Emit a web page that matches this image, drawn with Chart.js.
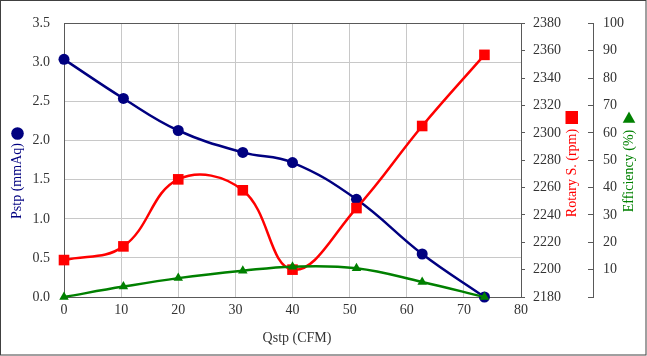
<!DOCTYPE html>
<html>
<head>
<meta charset="utf-8">
<script src="https://cdn.jsdelivr.net/npm/chart.js@4"></script>
<style>
html,body{margin:0;padding:0;background:#fff;}
canvas{display:block;}
</style>
</head>
<body>
<canvas id="c" width="647" height="356"></canvas>
<script>
// ---- data ----
const qstp = [0, 10.4, 20.0, 31.3, 40.0, 51.2, 62.7, 73.6];       // Qstp (CFM)
const pstp = [3.04, 2.54, 2.13, 1.85, 1.72, 1.25, 0.55, 0];       // Pstp (mmAq)
const rpm  = [2207, 2217, 2266, 2258, 2200, 2245, 2305, 2357];    // Rotary S. (rpm)
const eff  = [0, 3.8, 6.9, 9.6, 11.1, 10.5, 5.5, 0];              // Efficiency (%)

const xTitle = 'Qstp (CFM)';
const yTitle = 'Pstp (mmAq)';
const y2Title = 'Rotary S. (rpm)';
const y3Title = 'Efficiency (%)';

const NAVY = '#000080', RED = '#FF0000', GREEN = '#008000';
const FONT = "'Liberation Serif', 'Times New Roman', serif";
const AXIS = '#595959', GRID = '#c8c8c8', TXT = '#333333';

const toPts = (ys) => qstp.map((x, i) => ({x: x, y: ys[i]}));

const decor = {
  id: 'decor',
  beforeDatasetsDraw(chart) {
    const ctx = chart.ctx, a = chart.chartArea;
    ctx.save();
    ctx.strokeStyle = AXIS;
    ctx.lineWidth = 1;
    ctx.strokeRect(Math.round(a.left) + 0.5, Math.round(a.top) + 0.5,
                   Math.round(a.right - a.left), Math.round(a.bottom - a.top));
    ctx.restore();
  },
  afterDraw(chart) {
    const ctx = chart.ctx;
    ctx.save();
    ctx.font = '14px ' + FONT;
    ctx.textAlign = 'center';
    ctx.textBaseline = 'middle';
    // x title
    ctx.fillStyle = TXT;
    ctx.fillText(xTitle, 297, 338);
    // rotated titles
    const rot = (txt, x, y, col) => {
      ctx.save();
      ctx.translate(x, y);
      ctx.rotate(-Math.PI / 2);
      ctx.fillStyle = col;
      ctx.fillText(txt, 0, 0);
      ctx.restore();
    };
    rot(yTitle, 17.5, 181, NAVY);
    rot(y2Title, 572, 173, RED);
    rot(y3Title, 629, 171, GREEN);
    // markers beside titles
    ctx.fillStyle = NAVY;
    ctx.beginPath(); ctx.arc(17.5, 133.5, 6.3, 0, Math.PI * 2); ctx.fill();
    ctx.fillStyle = RED;
    ctx.fillRect(565.5, 111, 12.5, 13);
    ctx.fillStyle = GREEN;
    ctx.beginPath(); ctx.moveTo(629, 111.5); ctx.lineTo(635.3, 122.8); ctx.lineTo(622.7, 122.8); ctx.closePath(); ctx.fill();
    // outer frame
    ctx.strokeStyle = '#404040';
    ctx.lineWidth = 1;
    ctx.strokeRect(0.5, 0.5, 645.5, 354.5);
    ctx.restore();
  }
};

new Chart(document.getElementById('c'), {
  type: 'line',
  data: {
    datasets: [
      {
        label: y3Title, data: toPts(eff), yAxisID: 'y3', order: 0,
        borderColor: GREEN, backgroundColor: GREEN, borderWidth: 2.5,
        pointStyle: 'triangle', pointRadius: 5.5, pointBorderWidth: 0,
        tension: 0.4, clip: false
      },
      {
        label: y2Title, data: toPts(rpm), yAxisID: 'y2', order: 1,
        borderColor: RED, backgroundColor: RED, borderWidth: 2.5,
        pointStyle: 'rect', pointRadius: 7.5, pointBorderWidth: 0,
        tension: 0.4, clip: false
      },
      {
        label: yTitle, data: toPts(pstp), yAxisID: 'y', order: 2,
        borderColor: NAVY, backgroundColor: NAVY, borderWidth: 2.5,
        pointStyle: 'circle', pointRadius: 5.5, pointBorderWidth: 0,
        tension: 0.4, clip: false
      }
    ]
  },
  options: {
    responsive: false,
    animation: false,
    devicePixelRatio: 1,
    layout: {padding: {top: 18, bottom: 0, left: 0, right: 0}},
    plugins: {legend: {display: false}, tooltip: {enabled: false}},
    scales: {
      x: {
        type: 'linear', position: 'bottom', min: 0, max: 80,
        ticks: {stepSize: 10, color: TXT, font: {family: FONT, size: 14}, padding: 5, maxRotation: 0,
                callback: (v) => String(v)},
        grid: {color: GRID, drawTicks: false},
        border: {color: AXIS},
        afterFit: (s) => { s.height = 59; }
      },
      y: {
        position: 'left', min: 0, max: 3.5,
        ticks: {stepSize: 0.5, color: TXT, font: {family: FONT, size: 14}, padding: 14,
                callback: (v) => Number(v).toFixed(1)},
        grid: {color: GRID, drawTicks: false},
        border: {color: AXIS},
        afterFit: (s) => { s.width = 64; }
      },
      y2: {
        position: 'right', min: 2180, max: 2380,
        ticks: {stepSize: 20, color: TXT, font: {family: FONT, size: 14}, padding: 8,
                callback: (v) => String(v)},
        grid: {drawOnChartArea: false, drawTicks: true, tickLength: 4, color: AXIS},
        border: {color: AXIS},
        afterFit: (s) => { s.width = 72; }
      },
      y3: {
        position: 'right', min: 0, max: 100,
        ticks: {stepSize: 10, color: TXT, font: {family: FONT, size: 14}, padding: 15,
                callback: (v) => v === 0 ? '' : String(v)},
        grid: {drawOnChartArea: false, drawTicks: true, tickLength: -5, color: AXIS},
        border: {color: AXIS},
        afterFit: (s) => { s.width = 54; }
      }
    }
  },
  plugins: [decor]
});
</script>
</body>
</html>
